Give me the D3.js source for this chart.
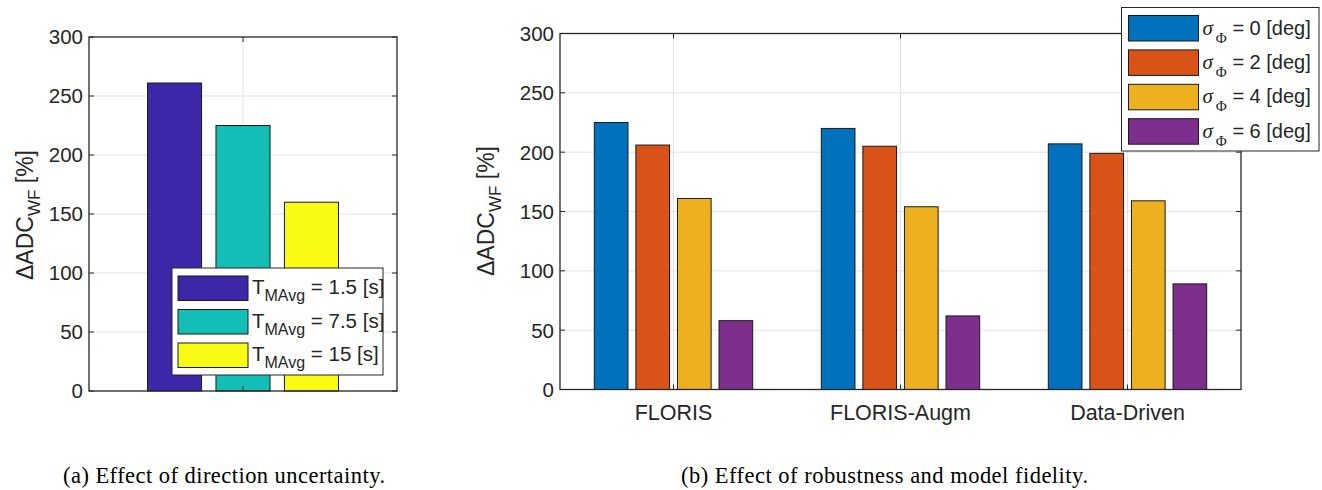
<!DOCTYPE html>
<html>
<head>
<meta charset="utf-8">
<script src="https://cdn.jsdelivr.net/npm/d3@7"></script>
<style>
  body { margin: 0; background: #fff; }
  text { fill: #262626; }
</style>
</head>
<body>
<div id="chart"></div>
<script>
// (a) direction uncertainty
const avgWindows = ["1.5", "7.5", "15"];
const avgValues = [261, 225, 160];
const avgColors = ["#3e26a8", "#13beb7", "#f9fb15"];

// (b) robustness and model fidelity
const models = ["FLORIS", "FLORIS-Augm", "Data-Driven"];
const sigmas = ["0", "2", "4", "6"];
const sigmaValues = [
    [225, 206, 161, 58],
    [220, 205, 154, 62],
    [207, 199, 159, 89]
];
const sigmaColors = ["#0072bd", "#d95319", "#edb120", "#7e2f8e"];

const yTicks = [0, 50, 100, 150, 200, 250, 300];
const captions = ["(a) Effect of direction uncertainty.", "(b) Effect of robustness and model fidelity."];

const W = 1322, H = 490;
const svg = d3.select("#chart").append("svg")
    .attr("width", W).attr("height", H)
    .style("font-family", "'Liberation Sans', Arial, sans-serif");

const axisColor = "#262626", gridColor = "#e3e3e3";

function drawFrame(box, y, xTickPos) {
    const g = svg.append("g");
    g.selectAll(".hg").data(yTicks.slice(1, -1)).enter().append("line")
        .attr("x1", box.x0).attr("x2", box.x1)
        .attr("y1", d => y(d)).attr("y2", d => y(d))
        .attr("stroke", gridColor).attr("stroke-width", 1);
    g.selectAll(".vg").data(xTickPos).enter().append("line")
        .attr("x1", d => d).attr("x2", d => d)
        .attr("y1", box.y0).attr("y2", box.y1)
        .attr("stroke", gridColor).attr("stroke-width", 1);
    return g;
}

function drawAxes(box, y, xTickPos) {
    const g = svg.append("g");
    g.append("rect")
        .attr("x", box.x0).attr("y", box.y0)
        .attr("width", box.x1 - box.x0).attr("height", box.y1 - box.y0)
        .attr("fill", "none").attr("stroke", axisColor).attr("stroke-width", 1.3);
    yTicks.forEach(t => {
        g.append("line").attr("x1", box.x0).attr("x2", box.x0 + 5)
            .attr("y1", y(t)).attr("y2", y(t)).attr("stroke", axisColor);
        g.append("line").attr("x1", box.x1).attr("x2", box.x1 - 5)
            .attr("y1", y(t)).attr("y2", y(t)).attr("stroke", axisColor);
        g.append("text").attr("x", box.x0 - 6).attr("y", y(t))
            .attr("text-anchor", "end").attr("dy", "0.36em")
            .style("font-size", "20.5px").text(t);
    });
    xTickPos.forEach(px => {
        g.append("line").attr("x1", px).attr("x2", px)
            .attr("y1", box.y1).attr("y2", box.y1 - 5).attr("stroke", axisColor);
        g.append("line").attr("x1", px).attr("x2", px)
            .attr("y1", box.y0).attr("y2", box.y0 + 5).attr("stroke", axisColor);
    });
    return g;
}

function yLabel(cx, cy) {
    const t = svg.append("text")
        .attr("transform", `translate(${cx},${cy}) rotate(-90)`)
        .attr("text-anchor", "middle")
        .style("font-size", "23px");
    t.append("tspan").text("\u0394ADC");
    t.append("tspan").attr("dy", 7).style("font-size", "17px").text("WF");
    t.append("tspan").attr("dy", -7).text(" [%]");
}

// ---------- (a) ----------
const boxA = { x0: 89, x1: 397, y0: 37, y1: 391 };
const yA = d3.scaleLinear().domain([0, 300]).range([boxA.y1, boxA.y0]);
const xA = d3.scaleLinear().domain([0.5, 1.5]).range([boxA.x0, boxA.x1]);
const subA = d3.scaleBand().domain(avgWindows).range([-95.5, 95.5]).paddingInner(0.21);

drawFrame(boxA, yA, [xA(1)]);
svg.append("g").selectAll("rect").data(avgValues).enter().append("rect")
    .attr("x", (d, i) => xA(1) + subA(avgWindows[i]))
    .attr("width", subA.bandwidth())
    .attr("y", d => yA(d))
    .attr("height", d => yA(0) - yA(d))
    .attr("fill", (d, i) => avgColors[i])
    .attr("stroke", "#1a1a1a").attr("stroke-width", 1);
drawAxes(boxA, yA, [xA(1)]);
yLabel(33, 215);

// legend (a)
const legA = svg.append("g").attr("transform", "translate(172,268)");
legA.append("rect").attr("width", 211).attr("height", 107)
    .attr("fill", "#fff").attr("stroke", axisColor).attr("stroke-width", 1);
avgWindows.forEach((w, i) => {
    const yy = 8 + i * 33.5;
    legA.append("rect").attr("x", 6).attr("y", yy).attr("width", 70).attr("height", 24.5)
        .attr("fill", avgColors[i]).attr("stroke", "#1a1a1a");
    const t = legA.append("text").attr("x", 80).attr("y", yy + 18).style("font-size", "20.5px");
    t.append("tspan").text("T");
    t.append("tspan").attr("dy", 7).style("font-size", "16px").text("MAvg");
    t.append("tspan").attr("dy", -7).text(` = ${w} [s]`);
});

// ---------- (b) ----------
const boxB = { x0: 560, x1: 1241, y0: 33.5, y1: 389.5 };
const yB = d3.scaleLinear().domain([0, 300]).range([boxB.y1, boxB.y0]);
const xB = d3.scaleLinear().domain([0.5, 3.5]).range([boxB.x0, boxB.x1]);
const subB = d3.scaleBand().domain(sigmas).range([-79.2, 79.2]).paddingInner(0.19);
const catPos = models.map((m, i) => xB(i + 1));

drawFrame(boxB, yB, catPos);
const groups = svg.append("g").selectAll("g").data(sigmaValues).enter().append("g")
    .attr("transform", (d, i) => `translate(${catPos[i]},0)`);
groups.selectAll("rect").data(d => d).enter().append("rect")
    .attr("x", (d, j) => subB(sigmas[j]))
    .attr("width", subB.bandwidth())
    .attr("y", d => yB(d))
    .attr("height", d => yB(0) - yB(d))
    .attr("fill", (d, j) => sigmaColors[j])
    .attr("stroke", "#1a1a1a").attr("stroke-width", 1);
drawAxes(boxB, yB, catPos);
svg.append("g").selectAll("text").data(models).enter().append("text")
    .attr("x", (d, i) => catPos[i]).attr("y", 420)
    .attr("text-anchor", "middle").style("font-size", "21.5px").text(d => d);
yLabel(494, 211);

// legend (b)
const legB = svg.append("g").attr("transform", "translate(1121.5,7.5)");
legB.append("rect").attr("width", 197.5).attr("height", 143.5)
    .attr("fill", "#fff").attr("stroke", axisColor).attr("stroke-width", 1);
sigmas.forEach((s, i) => {
    const yy = 8 + i * 34.4;
    legB.append("rect").attr("x", 7).attr("y", yy).attr("width", 70).attr("height", 25.5)
        .attr("fill", sigmaColors[i]).attr("stroke", "#1a1a1a");
    const t = legB.append("text").attr("x", 81).attr("y", yy + 19).style("font-size", "20px");
    t.append("tspan").style("font-family", "'Liberation Serif', serif").style("font-style", "italic")
        .style("font-size", "21px").text("\u03c3");
    t.append("tspan").attr("dx", 3).attr("dy", 8).style("font-family", "'Liberation Serif', serif")
        .style("font-size", "15px").text("\u03a6");
    t.append("tspan").attr("dy", -8).text(` = ${s} [deg]`);
});

// captions
const capX = [[63, 385], [681, 1088]];
svg.selectAll(".cap").data(captions).enter().append("text")
    .attr("x", (d, i) => capX[i][0]).attr("y", 483)
    .attr("textLength", (d, i) => capX[i][1] - capX[i][0])
    .attr("lengthAdjust", "spacing")
    .style("font-family", "'Liberation Serif', 'Times New Roman', serif")
    .style("font-size", "22.5px").style("fill", "#000").text(d => d);
</script>
</body>
</html>
